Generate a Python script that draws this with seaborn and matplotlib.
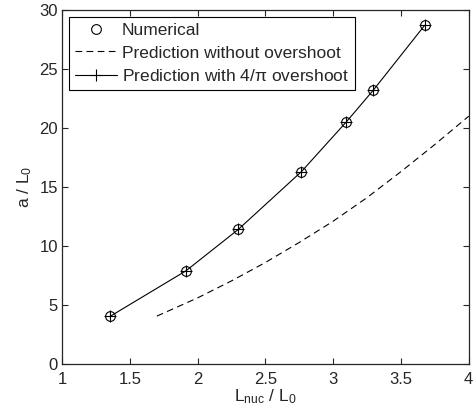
import numpy as np
import pandas as pd
import matplotlib
matplotlib.use("Agg")
import matplotlib.pyplot as plt
import seaborn as sns

# Values
lnuc_num = [1.354, 1.915, 2.30, 2.766, 3.096, 3.296, 3.675]
a_num = [4.03, 7.9, 11.4, 16.3, 20.5, 23.2, 28.7]

lnuc_pred = [1.70, 2.00, 2.25, 2.50, 2.75, 3.00, 3.25, 3.50, 3.75, 4.00]
a_pred = [4.06, 5.6, 7.04, 8.6, 10.3, 12.1, 14.1, 16.3, 18.6, 21.0]

sns.set_style("ticks")
plt.rcParams['font.family'] = ['Liberation Sans', 'DejaVu Sans']
plt.rcParams['mathtext.default'] = 'regular'
plt.rcParams['font.size'] = 12

fig = plt.figure(figsize=(4.73, 4.2), dpi=100)
ax = fig.add_axes([0.131, 0.1333, 0.860, 0.843])

df_num = pd.DataFrame({'x': lnuc_num, 'y': a_num})
df_pred = pd.DataFrame({'x': lnuc_pred, 'y': a_pred})

sns.lineplot(data=df_num, x='x', y='y', ax=ax, color='black', linestyle='',
             marker='o', markersize=7, markerfacecolor='none',
             markeredgecolor='black', markeredgewidth=0.8, legend=False)
sns.lineplot(data=df_pred, x='x', y='y', ax=ax, color='black',
             linestyle=(0, (6, 4)), linewidth=0.8, legend=False)
sns.lineplot(data=df_num, x='x', y='y', ax=ax, color='black', linestyle='-',
             linewidth=0.8, marker='+', markersize=8, markeredgewidth=0.8,
             markeredgecolor='black', legend=False)

ax.set_xlim(1, 4)
ax.set_ylim(0, 30)
ax.set_xticks([1, 1.5, 2, 2.5, 3, 3.5, 4])
ax.set_xticklabels(['1', '1.5', '2', '2.5', '3', '3.5', '4'])
ax.set_yticks([0, 5, 10, 15, 20, 25, 30])
ax.tick_params(direction='in', top=True, right=True, length=4, width=0.8,
               labelsize=12)
ax.tick_params(axis='x', pad=6)
ax.tick_params(axis='y', pad=3)
for s in ax.spines.values():
    s.set_linewidth(0.9)
    s.set_visible(True)

ax.set_xlabel('L$_{nuc}$ / L$_0$', fontsize=12.5, labelpad=0)
ax.set_ylabel('a / L$_0$', fontsize=12.5, labelpad=4)

labels = ['Numerical', 'Prediction without overshoot',
          r'Prediction with 4/$\pi$ overshoot']
leg = ax.legend(handles=ax.lines[:3], labels=labels, loc='upper left',
                frameon=True, fancybox=False, framealpha=1,
                edgecolor='black', fontsize=12.5, borderaxespad=0.4,
                handlelength=2.4, handletextpad=0.3, labelspacing=0.42,
                borderpad=0.35)
leg.get_frame().set_linewidth(0.8)

fig.savefig('out.png', dpi=100)
